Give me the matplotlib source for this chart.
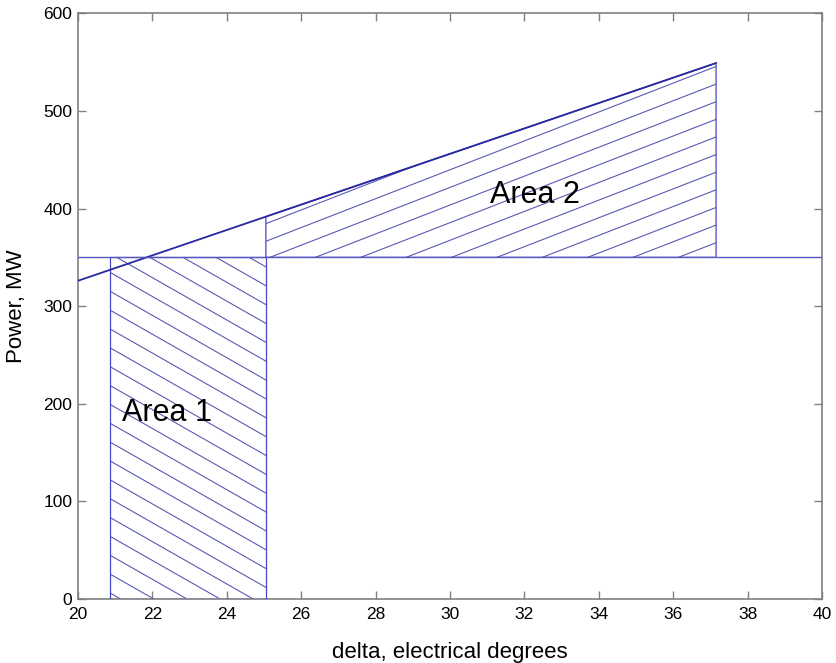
import numpy as np
import matplotlib
matplotlib.use('Agg')
import matplotlib.pyplot as plt
from matplotlib.patches import Polygon

# power-angle data
delta_line = [20.0, 37.15]
power_line = [326.0, 549.0]
p_mech = 350.0
delta_0 = 20.85      # start of area 1
delta_c = 25.05      # clearing angle
delta_max = 37.15    # end of area 2

# hatch settings (data units): slope, first crossing, spacing
hatch1 = dict(slope=-21.7, x0=21.04, step=0.89, base=p_mech)
hatch2 = dict(slope=14.8, x0=25.16, step=1.22, base=p_mech)

plt.rcParams['font.family'] = ['Liberation Sans', 'DejaVu Sans']

fig = plt.figure(figsize=(8.37, 6.63), dpi=100)
ax = fig.add_axes([0.0932, 0.0965, 0.889, 0.8835])

edge = '#4848c8'
hcol = '#5a5ab4'

# area 1: rectangle under the mechanical power line
a1 = Polygon([[delta_0, 0], [delta_0, p_mech], [delta_c, p_mech], [delta_c, 0]],
             closed=True, facecolor='none', edgecolor=edge, lw=0.9, zorder=3)
ax.add_patch(a1)

# area 2: between the power line and mechanical power
xs = np.linspace(delta_c, delta_max, 30)
top = np.interp(xs, delta_line, power_line)
pts = [[delta_c, p_mech]] + [[x, y] for x, y in zip(xs, top)] + [[delta_max, p_mech]]
a2 = Polygon(pts, closed=True, facecolor='none', edgecolor=edge, lw=0.9, zorder=3)
ax.add_patch(a2)

xx = np.array([0.0, 45.0])
for patch, h, kr in [(a1, hatch1, range(-22, 6)), (a2, hatch2, range(-4, 12))]:
    for k in kr:
        x0 = h['x0'] + h['step'] * k
        yy = h['base'] + h['slope'] * (xx - x0)
        ln, = ax.plot(xx, yy, color=hcol, lw=0.8, zorder=2)
        ln.set_clip_path(patch)

ax.plot(delta_line, power_line, color='#2828a0', lw=1.3, zorder=4)
ax.axhline(p_mech, color='#5858c0', lw=1.0, zorder=4)

ax.text(21.18, 191, 'Area 1', fontsize=22, va='center', ha='left')
ax.text(31.08, 414, 'Area 2', fontsize=22, va='center', ha='left')

ax.set_xlim(20, 40)
ax.set_ylim(0, 600)
ax.set_xticks(np.arange(20, 41, 2))
ax.set_yticks(np.arange(0, 601, 100))
ax.tick_params(direction='in', top=True, right=True, length=6, width=1,
               color='#808080', labelsize=12.5)
ax.tick_params(axis='x', pad=6)
ax.tick_params(axis='y', pad=4)
for s in ax.spines.values():
    s.set_color('#808080')
    s.set_linewidth(1.2)

ax.set_xlabel('delta, electrical degrees', fontsize=16, labelpad=14)
ax.set_ylabel('Power, MW', fontsize=16, labelpad=12)

fig.savefig('out.png', dpi=100)
